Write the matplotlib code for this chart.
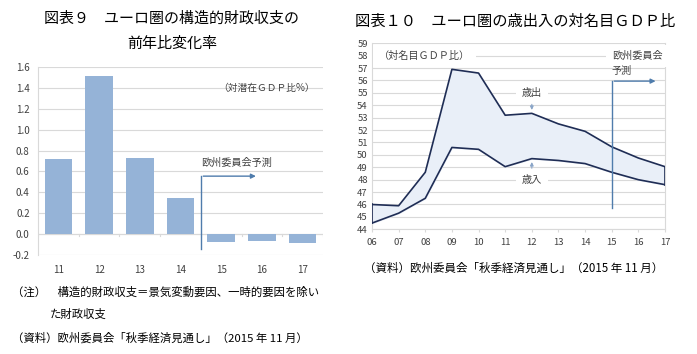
import numpy as np
from matplotlib import pyplot as plt

plt.rcParams['font.family'] = ['Noto Sans CJK JP', 'DejaVu Sans']

# chart 9: structural balance change
years9 = ['11', '12', '13', '14', '15', '16', '17']
change9 = [0.715, 1.515, 0.73, 0.345, -0.08, -0.067, -0.087]

# chart 10: expenditure / revenue as % of nominal GDP
years10 = ['06', '07', '08', '09', '10', '11', '12', '13', '14', '15', '16', '17']
spending = [46.0, 45.9, 48.6, 56.9, 56.6, 53.2, 53.35, 52.5, 51.9, 50.65, 49.75, 49.05]
revenue = [44.5, 45.3, 46.5, 50.6, 50.45, 49.05, 49.7, 49.55, 49.3, 48.6, 48.0, 47.6]

grid_c = '#d9d9d9'
bar_c = '#95b3d7'
line_c = '#1f2d55'
arrow_c = '#4f7cac'
fill_c = '#e9eff8'

fig = plt.figure(figsize=(6.97, 3.54), dpi=100)

# ---- left chart ----
ax = fig.add_axes([38 / 697, 1 - 255 / 354, 285 / 697, 188 / 354])
x9 = np.arange(len(years9))
ax.bar(x9, change9, width=0.68, color=bar_c, zorder=3)
ax.set_xlim(-0.5, len(years9) - 0.5)
ax.set_ylim(-0.2, 1.6)
ax.set_yticks(np.arange(-0.2, 1.61, 0.2))
ax.set_yticklabels(['%.1f' % v for v in np.arange(-0.2, 1.61, 0.2)], fontsize=7, color='#404040')
ax.set_xticks(x9)
ax.set_xticklabels(years9, fontsize=7, color='#404040')
ax.tick_params(axis='both', length=0, pad=6)
ax.tick_params(axis='x', pad=7)
ax.grid(axis='y', color=grid_c, linewidth=0.8, zorder=0)
for s in ['top', 'right', 'bottom']:
    ax.spines[s].set_visible(False)
ax.spines['left'].set_color(grid_c)
ax.axhline(0, color=grid_c, linewidth=0.8, zorder=1)
for b in np.arange(-0.5, len(years9), 1.0):
    ax.plot([b, b], [0, -0.02], color=grid_c, linewidth=0.8, zorder=1)
ax.text(0.97, 0.89, '（対潜在ＧＤＰ比%）', transform=ax.transAxes, ha='right', va='center',
        fontsize=7, color='#404040')
ax.plot([3.5, 3.5], [-0.14, 0.555], color=arrow_c, linewidth=1.0, zorder=4)
ax.annotate('', xy=(4.92, 0.555), xytext=(3.49, 0.555),
            arrowprops=dict(arrowstyle='-|>', color=arrow_c, lw=1.0, mutation_scale=7), zorder=4)
ax.text(3.5, 0.63, '欧州委員会予測', fontsize=7.3, color='#404040', va='bottom', ha='left')

fig.text(172 / 697, 1 - 19 / 354, '図表９　ユーロ圏の構造的財政収支の', ha='center', va='center', fontsize=10.8)
fig.text(172 / 697, 1 - 44 / 354, '前年比変化率', ha='center', va='center', fontsize=10.8)
fig.text(12 / 697, 1 - 292 / 354, '（注）　構造的財政収支＝景気変動要因、一時的要因を除い',
         ha='left', va='center', fontsize=8.2)
fig.text(50 / 697, 1 - 314 / 354, 'た財政収支', ha='left', va='center', fontsize=8.2)
fig.text(12 / 697, 1 - 338 / 354, '（資料）欧州委員会「秋季経済見通し」（2015 年 11 月）',
         ha='left', va='center', fontsize=8.2)

# ---- right chart ----
ax2 = fig.add_axes([372 / 697, 1 - 229.3 / 354, 293 / 697, 186 / 354])
x10 = np.arange(len(years10))
ax2.fill_between(x10, revenue, spending, color=fill_c, zorder=2)
ax2.plot(x10, spending, color=line_c, linewidth=1.2, zorder=3)
ax2.plot(x10, revenue, color=line_c, linewidth=1.2, zorder=3)
ax2.plot([x10[0], x10[0]], [revenue[0], spending[0]], color=line_c, linewidth=1.2, zorder=3)
ax2.plot([x10[-1], x10[-1]], [revenue[-1], spending[-1]], color=line_c, linewidth=1.2, zorder=3)
ax2.set_xlim(0, len(years10) - 1)
ax2.set_ylim(44, 59)
ax2.set_yticks(range(44, 60))
ax2.set_yticklabels([str(v) for v in range(44, 60)], fontsize=6.8, color='#404040')
ax2.set_xticks(x10)
ax2.set_xticklabels(years10, fontsize=6.8, color='#404040')
ax2.tick_params(axis='y', length=0, pad=3)
ax2.tick_params(axis='x', length=2, color=grid_c, pad=4)
ax2.grid(axis='y', color=grid_c, linewidth=0.8, zorder=0)
ax2.spines['top'].set_visible(False)
for s in ['left', 'bottom', 'right']:
    ax2.spines[s].set_color(grid_c)

bbox = dict(boxstyle='square,pad=0.6', fc='white', ec='none')
ax2.text(0.25, 58.0, '（対名目ＧＤＰ比）', fontsize=7.3, color='#404040', va='center', ha='left',
         bbox=dict(boxstyle='square,pad=0.6', fc='white', ec='none'), zorder=5)
ax2.text(6.0, 55.0, '歳出', fontsize=7.3, color='#404040', va='center', ha='center', bbox=bbox, zorder=5)
ax2.annotate('', xy=(6.0, spending[6] + 0.05), xytext=(6.0, 54.3),
             arrowprops=dict(arrowstyle='-|>', color='#8aa5c8', lw=0.8, mutation_scale=5), zorder=5)
ax2.text(6.0, 48.0, '歳入', fontsize=7.3, color='#404040', va='center', ha='center', bbox=bbox, zorder=5)
ax2.annotate('', xy=(6.0, revenue[6] - 0.05), xytext=(6.0, 48.7),
             arrowprops=dict(arrowstyle='-|>', color='#8aa5c8', lw=0.8, mutation_scale=5), zorder=5)
ax2.text(9.0, 58.0, '欧州委員会', fontsize=7.3, color='#404040', va='center', ha='left', bbox=bbox, zorder=5)
ax2.text(9.0, 56.8, '予測', fontsize=7.3, color='#404040', va='center', ha='left', zorder=5)
ax2.plot([9, 9], [45.7, 55.95], color=arrow_c, linewidth=1.0, zorder=4)
ax2.annotate('', xy=(10.75, 55.95), xytext=(8.99, 55.95),
             arrowprops=dict(arrowstyle='-|>', color=arrow_c, lw=1.0, mutation_scale=7), zorder=4)

fig.text(355 / 697, 1 - 21 / 354, '図表１０　ユーロ圏の歳出入の対名目ＧＤＰ比', ha='left', va='center', fontsize=11)
fig.text(364 / 697, 1 - 268 / 354, '（資料）欧州委員会「秋季経済見通し」（2015 年 11 月）',
         ha='left', va='center', fontsize=8.3)

plt.savefig('out.png', dpi=100)
